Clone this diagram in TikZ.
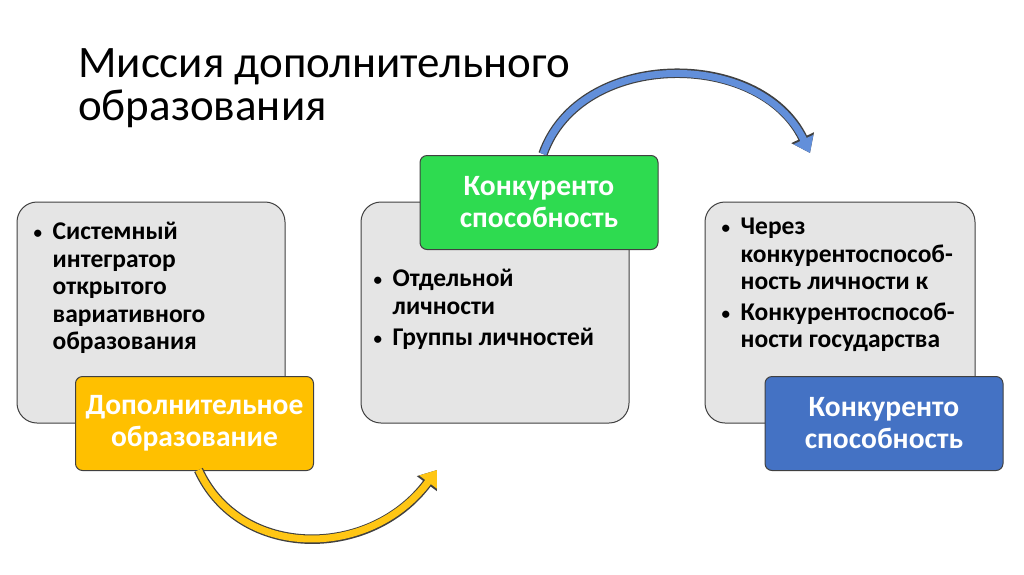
\documentclass[tikz,border=0pt]{standalone}
\usepackage{fontspec}
\setmainfont{Carlito}
\usetikzlibrary{arrows.meta,calc}

\definecolor{boxgray}{RGB}{229,229,229}
\definecolor{rimgray}{RGB}{64,64,64}
\definecolor{dopyellow}{RGB}{255,192,0}
\definecolor{konkgreen}{RGB}{46,219,80}
\definecolor{konkblue}{RGB}{68,114,196}
\definecolor{arrblue}{RGB}{98,143,218}
\definecolor{arryellow}{RGB}{255,198,20}

\newcommand\bl{\makebox[19pt][l]{\raisebox{1pt}{\fontsize{17}{17}\selectfont\textbullet}}}
\newcommand\ind{\hspace*{19pt}}

\tikzset{
  graybox/.style={draw=rimgray, line width=1pt, fill=boxgray, rounded corners=20pt,
    minimum width=268pt, minimum height=221pt, inner sep=0pt},
  colbox/.style={draw=rimgray, line width=1pt, rounded corners=7pt, inner sep=0pt,
    minimum width=238pt, minimum height=94pt, align=center, text=white,
    font=\fontsize{29.5}{32}\selectfont\bfseries},
  bultext/.style={anchor=base west, inner sep=0pt,
    font=\fontsize{25.5}{27.5}\selectfont\bfseries},
  rimarrow/.style={line width=9.5pt, rimgray, line join=round,
    -{Triangle[width=24pt,length=17pt]}},
}

\begin{document}
\begin{tikzpicture}[x=1pt,y=-1pt]
  \useasboundingbox[fill=white] (0,0) rectangle (1024,574);

  \node[anchor=base west, inner sep=0pt, align=left, font=\fontsize{45}{43}\selectfont]
    (title) at (78,77) {\parbox[t]{700pt}{Миссия дополнительного\\образования}};

  % gray boxes
  \node[graybox] (g1) at (151,312.5) {};
  \node[graybox] (g2) at (495,312.5) {};
  \node[graybox, minimum width=270pt] (g3) at (840,312.5) {};

  \node[bultext] (t1) at ($(g1.north west)+(17,38)$) {\parbox[t]{250pt}{\bl Системный\\
    \ind интегратор\\ \ind открытого\\ \ind вариативного\\ \ind образования}};
  \node[bultext] (t2) at ($(g2.north west)+(13,85)$) {\parbox[t]{250pt}{\bl Отдельной\\
    \ind личности\\[4pt] \bl Группы личностей}};
  \node[bultext] (t3) at ($(g3.north west)+(17,33)$) {\parbox[t]{250pt}{\bl Через\\
    \ind конкурентоспособ-\\ \ind ность личности к\\[3pt] \bl Конкурентоспособ-\\
    \ind ности государства}};

  % coloured boxes
  \node[colbox, fill=dopyellow] (dop) at (194.5,423.5) {Дополнительное\\образование};
  \node[colbox, fill=konkgreen] (green) at (539,202.5) {Конкуренто\\способность};
  \node[colbox, fill=konkblue] (blue) at (884,423.5) {Конкуренто\\способность};

  % arrows
  \coordinate (ya) at ($(dop.south)+(4,-1)$);
  \coordinate (yb) at (437,470);
  \coordinate (ba) at ($(green.north)+(4,-1)$);
  \coordinate (bb) at (810,153);
  \draw[rimarrow] (ya) .. controls (240,560) and (370,560) .. (yb);
  \draw[line width=7pt, arryellow, line join=round, -{Triangle[width=21pt,length=15pt]}]
    (ya) .. controls (240,560) and (370,560) .. (yb);
  \draw[rimarrow] (ba) .. controls (580,49) and (760,49) .. (bb);
  \draw[line width=7pt, arrblue, line join=round, -{Triangle[width=21pt,length=15pt]}]
    (ba) .. controls (580,49) and (760,49) .. (bb);
\end{tikzpicture}
\end{document}
